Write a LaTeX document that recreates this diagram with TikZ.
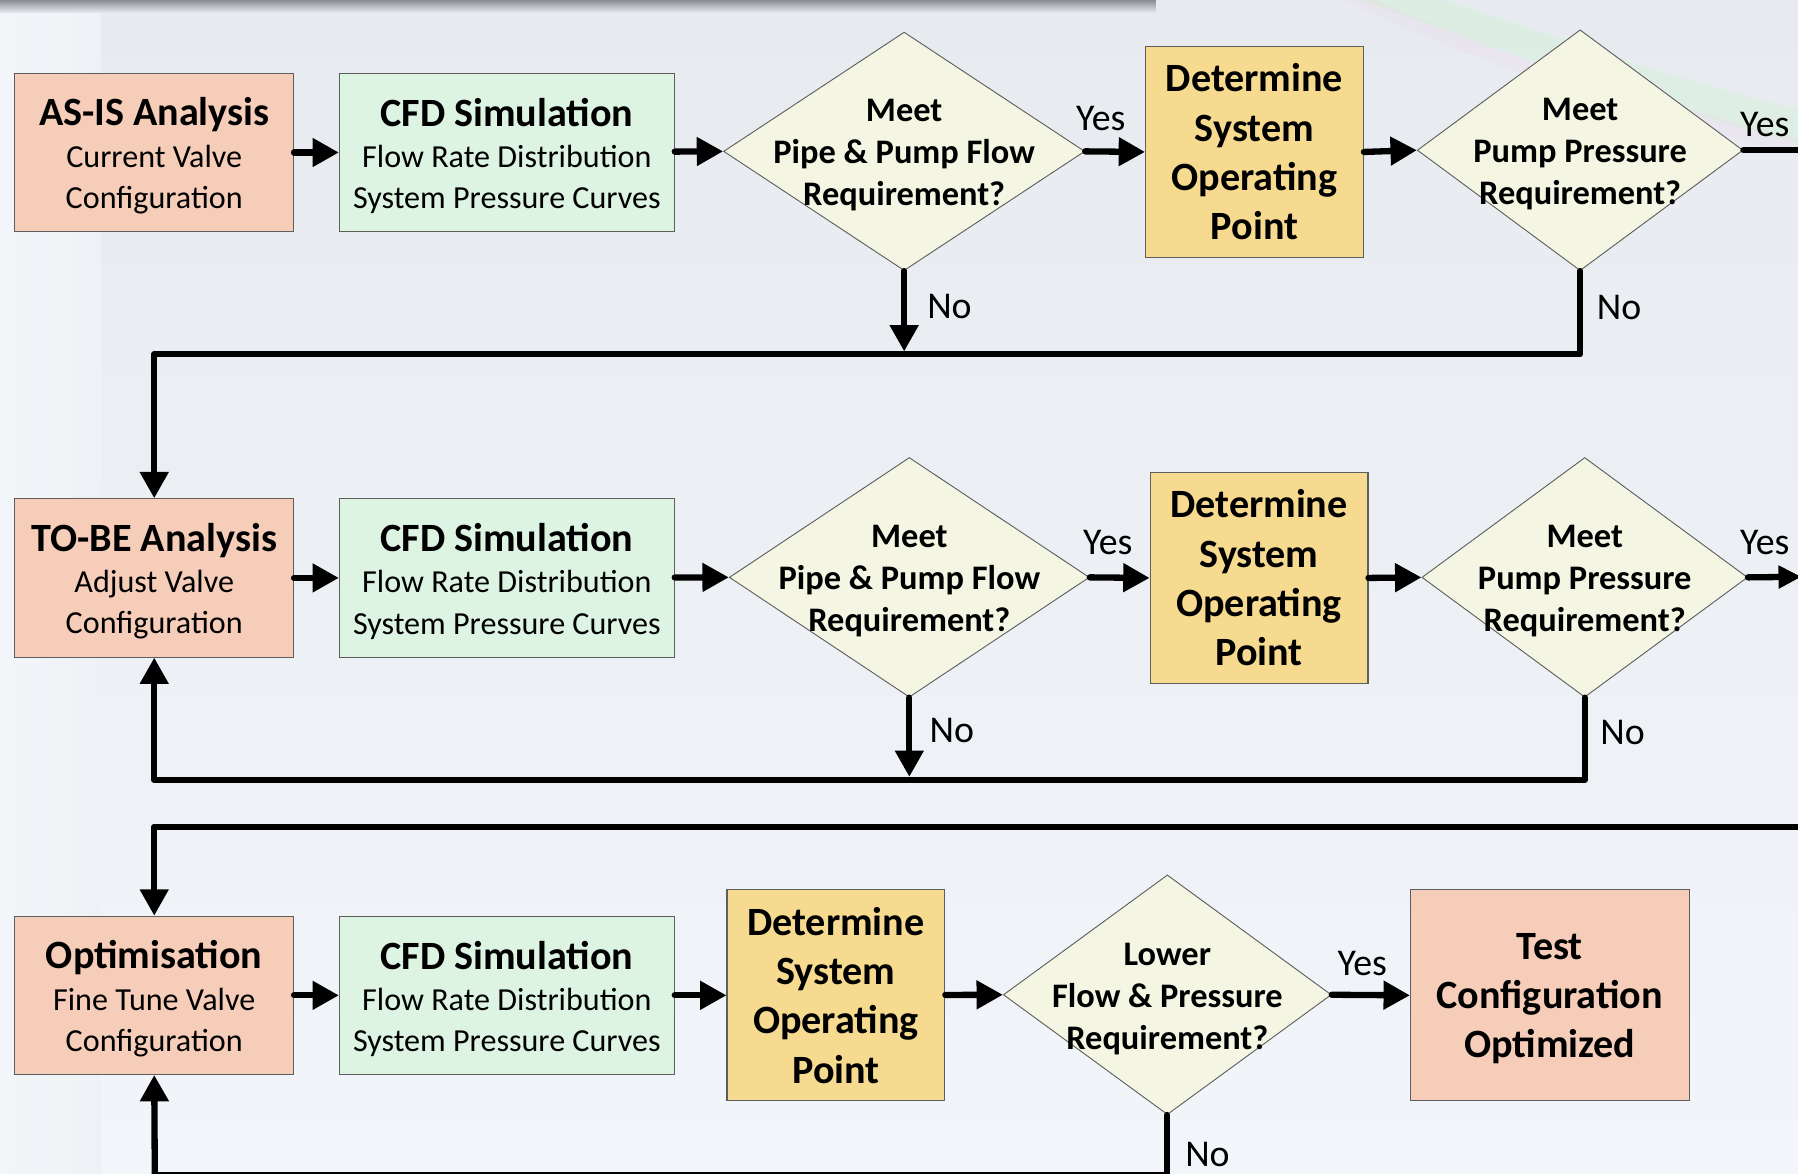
\documentclass[tikz,border=0pt]{standalone}
\usepackage{fontspec}
\setmainfont{Carlito}
\usetikzlibrary{shapes.geometric,arrows.meta}
\definecolor{bgtop}{HTML}{E7EBF0}
\definecolor{bgbot}{HTML}{F2F6FA}
\definecolor{bgleft}{HTML}{F3F6F9}
\definecolor{salm}{HTML}{F6CDB9}
\definecolor{mint}{HTML}{DDF4E3}
\definecolor{gold}{HTML}{F5DA8F}
\definecolor{diac}{HTML}{F4F6E3}
\definecolor{bordc}{HTML}{5E5E5E}
\definecolor{shadowc}{HTML}{8A8C90}
\newcommand{\ttlf}{\fontsize{35}{38}\selectfont\bfseries}
\newcommand{\subf}{\fontsize{28}{36}\selectfont}
\newcommand{\detf}{\fontsize{35}{43}\selectfont\bfseries}
\newcommand{\diaf}{\fontsize{30}{36.5}\selectfont\bfseries}
\newcommand{\labf}{\fontsize{33}{36}\selectfont}
\begin{document}
\begin{tikzpicture}[x=1pt,y=-1pt,
  box/.style={draw=bordc, line width=0.9pt, inner sep=0pt},
  btxt/.style={align=center, font=\subf, inner sep=0pt},
  detbox/.style={draw=bordc, line width=0.9pt, inner sep=0pt, align=center, font=\detf, fill=gold, minimum width=190, minimum height=184},
  dia/.style={diamond, draw=bordc, line width=0.8pt, fill=diac, inner sep=0pt},
  dtxt/.style={align=center, font=\diaf, inner sep=0pt},
  lab/.style={font=\labf, inner sep=0pt},
  flow/.style={line width=5.5pt, line join=round, line cap=round},
  conn/.style={flow, -{Triangle[length=23pt,width=24pt]}}
]
\useasboundingbox (0,0) rectangle (1568,1023);
% background
\shade[top color=bgtop, bottom color=bgbot] (0,0) rectangle (1568,1023);
\shade[left color=bgleft, right color=bgleft!60!bgtop] (0,0) rectangle (88,1023);
\shade[top color=shadowc, bottom color=bgtop] (0,0) rectangle (1008,11);
\fill[green!35!white, opacity=0.15] (1185,0) -- (1260,0) .. controls (1380,40) and (1480,75) .. (1568,95) -- (1568,125) .. controls (1470,100) and (1340,55) .. (1185,0);
\fill[magenta!25!white, opacity=0.12] (1170,0) -- (1200,0) .. controls (1300,45) and (1420,85) .. (1568,120) -- (1568,135) .. controls (1420,100) and (1290,55) .. (1170,0);

% row 1
\node[box, fill=salm, minimum width=243, minimum height=138] (asis) at (134.5,133) {};
\node[btxt] (asist) at (134.5,136) {{\ttlf AS-IS Analysis}\\Current Valve\\Configuration};
\node[box, fill=mint, minimum width=292, minimum height=138] (cfd1) at (442,133) {};
\node[btxt] (cfd1t) at (442,136) {{\ttlf CFD Simulation}\\Flow Rate Distribution\\System Pressure Curves};
\node[dia, minimum width=315, minimum height=208] (d1) at (788.5,132) {};
\node[dtxt] (d1t) at (788.5,135.5) {Meet\\Pipe \& Pump Flow\\Requirement?};
\node[detbox] (det1) at (1094,132.5) {Determine\\System\\Operating\\Point};
\node[dia, minimum width=284, minimum height=210] (d2) at (1378,131) {};
\node[dtxt] (d2t) at (1378,134.5) {Meet\\Pump Pressure\\Requirement?};

% row 2
\node[box, fill=salm, minimum width=243, minimum height=138] (tobe) at (134.5,504) {};
\node[btxt] (tobet) at (134.5,507) {{\ttlf TO-BE Analysis}\\Adjust Valve\\Configuration};
\node[box, fill=mint, minimum width=292, minimum height=138] (cfd2) at (442,504) {};
\node[btxt] (cfd2t) at (442,507) {{\ttlf CFD Simulation}\\Flow Rate Distribution\\System Pressure Curves};
\node[dia, minimum width=314, minimum height=209] (d3) at (793,503.5) {};
\node[dtxt] (d3t) at (793,507) {Meet\\Pipe \& Pump Flow\\Requirement?};
\node[detbox] (det2) at (1098,504) {Determine\\System\\Operating\\Point};
\node[dia, minimum width=284, minimum height=209] (d4) at (1382,503.5) {};
\node[dtxt] (d4t) at (1382,507) {Meet\\Pump Pressure\\Requirement?};

% row 3
\node[box, fill=salm, minimum width=243, minimum height=138] (opt) at (134.5,868) {};
\node[btxt] (optt) at (134.5,871) {{\ttlf Optimisation}\\Fine Tune Valve\\Configuration};
\node[box, fill=mint, minimum width=292, minimum height=138] (cfd3) at (442,868) {};
\node[btxt] (cfd3t) at (442,871) {{\ttlf CFD Simulation}\\Flow Rate Distribution\\System Pressure Curves};
\node[detbox] (det3) at (729,868) {Determine\\System\\Operating\\Point};
\node[dia, minimum width=286, minimum height=209] (d5) at (1018,867.5) {};
\node[dtxt] (d5t) at (1018,871) {Lower\\Flow \& Pressure\\Requirement?};
\node[box, fill=salm, minimum width=243, minimum height=184] (test) at (1351.5,868) {};
\node[btxt, font=\detf] (testt) at (1351.5,871) {Test\\Configuration\\Optimized};

% helper coordinates
\coordinate (h1) at (0,309);
\coordinate (n1) at (0,306.5);
\coordinate (h2) at (0,680);
\coordinate (n2) at (0,677.5);
\coordinate (e1) at (1575,131);
\coordinate (e2) at (1571,503);
\coordinate (e3) at (1580,721);
\coordinate (e4) at (135,1025);
\coordinate (e5) at (1018,1025);

% row 1 connectors
\draw[conn] (asis) -- (cfd1);
\draw[conn] (cfd1) -- (d1.west);
\draw[conn] (d1.east) -- (det1.west);
\draw[conn] (det1.east) -- (d2.west);
\draw[flow] (d2.east) -- (e1);
\draw[conn] (d1.south) -- (d1.south |- n1);
\draw[conn] (d2.south) |- (tobe.north |- h1) -- (tobe.north);

% row 2 connectors
\draw[conn] (tobe) -- (cfd2);
\draw[conn] (cfd2) -- (d3.west);
\draw[conn] (d3.east) -- (det2.west);
\draw[conn] (det2.east) -- (d4.west);
\draw[flow, -{Triangle[length=20pt,width=19pt]}] (d4.east) -- (e2);
\draw[conn] (d3.south) -- (d3.south |- n2);
\draw[conn] (d4.south) |- (tobe.south |- h2) -- (tobe.south);

% row 3 connectors
\draw[conn] (e3) -| (opt.north);
\draw[conn] (opt) -- (cfd3);
\draw[conn] (cfd3) -- (det3);
\draw[conn] (det3) -- (d5.west);
\draw[conn] (d5.east) -- (test.west);
\draw[flow] (d5.south) -- (e5);
\draw[flow] (e4) -- (e5);
\draw[conn] (e4) -- (opt.south);

% labels
\node[lab] (y1) at (960,103) {Yes};
\node[lab] (y2) at (1539,109) {Yes};
\node[lab] (no1) at (828,267) {No};
\node[lab] (no2) at (1412,268) {No};
\node[lab] (y3) at (966,473) {Yes};
\node[lab] (y4) at (1539,473) {Yes};
\node[lab] (no3) at (830,637) {No};
\node[lab] (no4) at (1415,639) {No};
\node[lab] (y5) at (1188,840) {Yes};
\node[lab] (no5) at (1053,1007) {No};
\end{tikzpicture}
\end{document}
